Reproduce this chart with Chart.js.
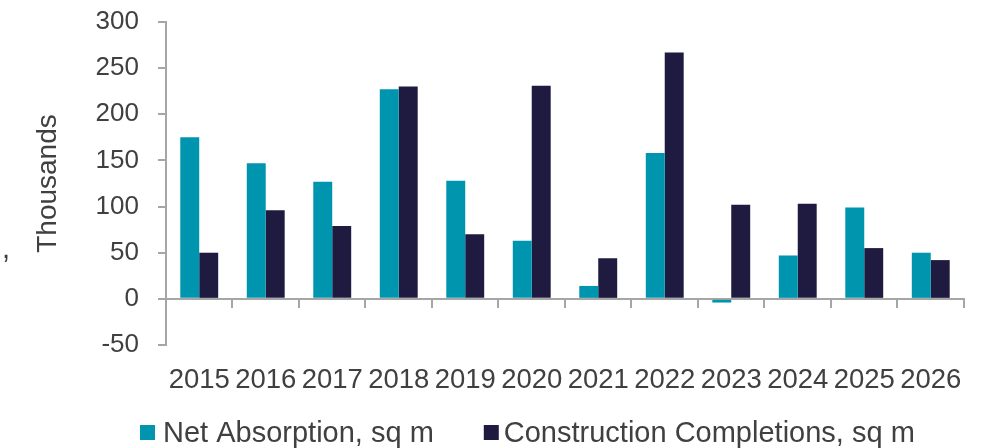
<!DOCTYPE html>
<html>
<head>
<meta charset="utf-8">
<script src="https://cdn.jsdelivr.net/npm/chart.js@4"></script>
<style>
  html, body { margin: 0; padding: 0; background: #fff; }
  #wrap { width: 993px; height: 448px; }
  canvas { display: block; }
</style>
</head>
<body>
<div id="wrap"><canvas id="chart" width="993" height="448" style="width:993px;height:448px"></canvas></div>
<script>
// データ（単位：千 sq m）
const years = ['2015','2016','2017','2018','2019','2020','2021','2022','2023','2024','2025','2026'];
const netAbsorption = [175, 147, 127, 227, 128, 63, 14, 158, -4, 47, 99, 50];
const completions = [50, 96, 79, 230, 70, 231, 44, 267, 102, 103, 55, 42];
const yTicks = [-50, 0, 50, 100, 150, 200, 250, 300];

const textColor = '#404040';
const axisColor = '#a6a6a6';
const font = 'Liberation Sans, Arial, sans-serif';

// 凡例と左端の "," を自前で描く
const legendPlugin = {
    id: 'myLegend',
    afterDraw: (chart) => {
        const ctx = chart.ctx;
        ctx.save();
        ctx.font = '29px ' + font;
        ctx.fillStyle = textColor;
        ctx.textBaseline = 'alphabetic';
        ctx.fillText(',', 2, 258);

        let x = 140;
        const boxSize = 15;
        const baseline = 442;
        chart.data.datasets.forEach((ds, i) => {
            ctx.fillStyle = ds.backgroundColor;
            ctx.fillRect(x, 425, boxSize, boxSize);
            x += boxSize + (i === 0 ? 8 : 5);
            ctx.fillStyle = textColor;
            ctx.fillText(ds.label, x, baseline);
            x += ctx.measureText(ds.label).width + 50;
        });
        ctx.restore();
    }
};

const ctx = document.getElementById('chart');
new Chart(ctx, {
    type: 'bar',
    plugins: [legendPlugin],
    data: {
        labels: years,
        datasets: [
            { label: 'Net Absorption, sq m', data: netAbsorption, backgroundColor: '#0095ae' },
            { label: 'Construction Completions, sq m', data: completions, backgroundColor: '#1f1a40' }
        ]
    },
    options: {
        responsive: false,
        animation: false,
        layout: { padding: { left: 31, right: 29, top: 0, bottom: 40 } },
        datasets: { bar: { categoryPercentage: 0.57, barPercentage: 1.0 } },
        plugins: {
            tooltip: { enabled: false },
            legend: { display: false }
        },
        scales: {
            x: {
                // ラベルだけ（下）
                ticks: { color: textColor, font: { family: font, size: 27.5 }, padding: 11, maxRotation: 0, autoSkip: false },
                grid: { display: false },
                border: { display: false }
            },
            x0: {
                // 0 の位置の軸線
                type: 'category',
                position: { y: 0 },
                ticks: { display: false },
                grid: { drawOnChartArea: false, drawTicks: true, tickLength: 8, color: axisColor, lineWidth: 2, offset: true },
                border: { display: true, color: axisColor, width: 2 }
            },
            y: {
                min: -50,
                max: 300,
                afterBuildTicks: (axis) => { axis.ticks = yTicks.map(v => ({ value: v })); },
                // 上下の余白を詰める
                afterFit: (axis) => { axis.paddingTop = 22; axis.paddingBottom = 0; },
                ticks: { color: textColor, font: { family: font, size: 26 }, padding: 19 },
                grid: { drawOnChartArea: false, drawTicks: true, tickLength: 8, color: axisColor, lineWidth: 2 },
                border: { display: true, color: axisColor, width: 2 },
                title: { display: true, text: 'Thousands', color: textColor, font: { family: font, size: 28 }, padding: { top: 0, bottom: 12 } }
            }
        }
    }
});
</script>
</body>
</html>
